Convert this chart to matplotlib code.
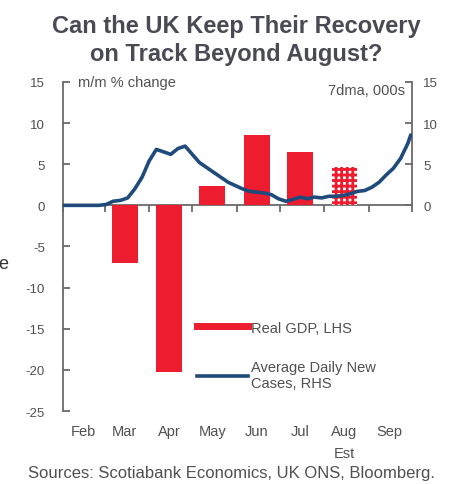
import pandas as pd
import matplotlib
matplotlib.use('Agg')
import matplotlib.pyplot as plt
import matplotlib.dates as mdates
from matplotlib.lines import Line2D

plt.rcParams['font.family'] = ['Liberation Sans', 'DejaVu Sans']
plt.rcParams['hatch.linewidth'] = 2.0
plt.rcParams['axes.unicode_minus'] = False

# Datos
meses = ['Feb', 'Mar', 'Apr', 'May', 'Jun', 'Jul', 'Aug', 'Sep']
gdp_fechas = ['2020-03-15', '2020-04-15', '2020-05-15', '2020-06-15', '2020-07-15']
gdp_valores = [-7.0, -20.3, 2.4, 8.6, 6.5]
gdp_est_fecha = ['2020-08-15']
gdp_est_valor = [4.6]

# casos diarios, media 7 dias, miles (cada 5 dias desde 1 feb)
casos_fechas = pd.date_range('2020-02-01', '2020-09-28', freq='5D')
casos_valores = [0.0, 0.0, 0.0, 0.0, 0.0, 0.0, 0.1, 0.5, 0.6, 0.9,
                 2.0, 3.4, 5.4, 6.8, 6.5, 6.2, 6.9, 7.2, 6.2, 5.2,
                 4.6, 4.0, 3.4, 2.8, 2.4, 2.0, 1.7, 1.6, 1.5, 1.3,
                 0.8, 0.5, 0.7, 1.0, 0.8, 1.0, 0.9, 1.1, 1.1, 1.2,
                 1.4, 1.7, 1.8, 2.2, 2.8, 3.7, 4.5, 5.7, 7.5]
casos_final_fecha = ['2020-09-30']
casos_final_valor = [8.5]

ROJO = '#ED1C2E'
AZUL = '#1F4A7C'
GRIS = '#505050'
EJE = '#6a6a6a'

fig = plt.figure(figsize=(4.63, 4.85), dpi=100)
ax = fig.add_axes([0.136, 0.1505, 0.754, 0.6785])
ax2 = ax.twinx()

x_gdp = pd.to_datetime(gdp_fechas)
ax.bar(x_gdp, gdp_valores, width=18, color=ROJO, zorder=2)
ax.bar(pd.to_datetime(gdp_est_fecha), gdp_est_valor, width=18, facecolor='white',
       edgecolor=ROJO, hatch='+++', linewidth=0, zorder=2)

x_casos = list(casos_fechas) + list(pd.to_datetime(casos_final_fecha))
y_casos = casos_valores + casos_final_valor
ax2.plot(x_casos, y_casos, color=AZUL, linewidth=2.6, zorder=3)

ax.set_xlim(pd.Timestamp('2020-02-01'), pd.Timestamp('2020-10-01'))
ax.set_ylim(-25, 15)
ax2.set_ylim(-25, 15)
ax.set_yticks(range(-25, 16, 5))
ax2.set_yticks(range(0, 16, 5))

ax.spines['top'].set_visible(False)
ax2.spines['top'].set_visible(False)
ax2.spines['left'].set_visible(False)
ax2.spines['bottom'].set_visible(False)
ax.spines['right'].set_visible(False)
ax.spines['bottom'].set_position(('data', 0))
ax2.spines['right'].set_bounds(0, 15)
for sp in [ax.spines['left'], ax.spines['bottom'], ax2.spines['right']]:
    sp.set_color(EJE)
    sp.set_linewidth(1.3)
    sp.set_zorder(1)

ax.tick_params(axis='y', direction='in', length=5, width=1.3, color=EJE,
               labelsize=9.5, labelcolor=GRIS, pad=13)
ax2.tick_params(axis='y', direction='in', length=5, width=1.3, color=EJE,
                labelsize=9.5, labelcolor=GRIS, pad=8)
ax.xaxis.set_major_locator(mdates.MonthLocator())
ax.xaxis.set_major_formatter(plt.NullFormatter())
ax.tick_params(axis='x', direction='out', length=5, width=1.3, color=EJE)

# etiquetas de meses debajo del grafico
mitad = pd.date_range('2020-02-01', periods=len(meses), freq='MS') + pd.Timedelta(days=14)
trans = ax.get_xaxis_transform()
for fecha, mes in zip(mitad, meses):
    ax.text(fecha, -0.062, mes, transform=trans, ha='center', va='center',
            fontsize=10.5, color=GRIS)
ax.text(mitad[6], -0.128, 'Est', transform=trans, ha='center', va='center',
        fontsize=10.5, color=GRIS)

ax.text(0.043, 1.0, 'm/m % change', transform=ax.transAxes, ha='left', va='center',
        fontsize=10.5, color=GRIS)
ax.text(0.98, 0.975, '7dma, 000s', transform=ax.transAxes, ha='right', va='center',
        fontsize=10.5, color=GRIS)

handles = [Line2D([], [], color=ROJO, linewidth=5),
           Line2D([], [], color=AZUL, linewidth=2.6)]
ax.legend(handles, ['Real GDP, LHS', 'Average Daily New\nCases, RHS'],
          loc='upper left', bbox_to_anchor=(0.385, 0.275), frameon=False,
          fontsize=10.5, labelcolor=GRIS, handlelength=3.5, handletextpad=0.15,
          labelspacing=1.75, borderaxespad=0, borderpad=0)

fig.text(0.51, 0.917, 'Can the UK Keep Their Recovery\non Track Beyond August?',
         ha='center', va='center', fontsize=17, fontweight='bold',
         color='#4a4a55', linespacing=1.25)
fig.text(0.5, 0.023, 'Sources: Scotiabank Economics, UK ONS, Bloomberg.',
         ha='center', va='center', fontsize=12, color=GRIS)
fig.text(-0.004, 0.455, 'e', ha='left', va='center', fontsize=13, color='#333333')

fig.savefig('out.png', dpi=100)
